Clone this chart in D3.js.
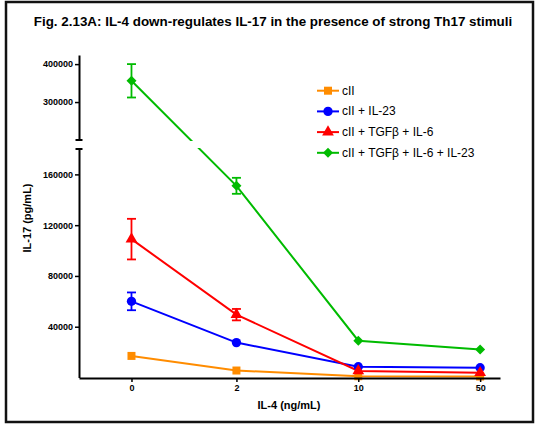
<!DOCTYPE html>
<html>
<head>
<meta charset="utf-8">
<script src="https://cdn.jsdelivr.net/npm/d3@7"></script>
<style>
  body { margin: 0; background: #fff; }
  svg text { font-family: "Liberation Sans", Arial, sans-serif; }
  .axis path, .axis line { stroke: #000; }
  .axis text { font-weight: bold; font-size: 9px; fill: #000; }
</style>
</head>
<body>
<svg id="content" width="537" height="425"></svg>
<script>
// IL-4 dose (ng/mL); 0 is drawn at 0.5 on the log axis
let doses = [0, 2, 10, 50];
let xLabels = ["0", "2", "10", "50"];

let seriesNames = ["cII", "cII + IL-23", "cII + TGF\u03b2 + IL-6", "cII + TGF\u03b2 + IL-6 + IL-23"];
let cII = [17000, 5500, 1000, 800];
let cIIil23 = [60000, 27500, 8500, 7700];
let cIItgf = [109000, 49500, 5200, 3800];
let cIItgfil23 = [356000, 151000, 29000, 22000];

let errCII = [0, 0, 0, 0];
let errIl23 = [7000, 0, 0, 0];
let errTgf = [16000, 4500, 0, 0];
let errTgfIl23 = [44000, 6300, 0, 0];

let lowTicks = [40000, 80000, 120000, 160000];
let highTicks = [300000, 400000];

let colors = ["#ff8c00", "#0000ff", "#ff0000", "#00bb00"];
let shapes = [d3.symbolSquare, d3.symbolCircle, d3.symbolTriangle, d3.symbolSquare];
let sizes = [64, 68, 60, 50];
let rotations = [0, 0, 0, 45];

let svg = d3.select("#content");

// frame
svg.append("rect")
  .attr("x", 6).attr("y", 2).attr("width", 527).attr("height", 420)
  .attr("fill", "none").attr("stroke", "#111").attr("stroke-width", 2.5);

svg.append("text")
  .attr("x", 273).attr("y", 26)
  .attr("text-anchor", "middle")
  .style("font-weight", "bold").style("font-size", "13.4px")
  .text("Fig. 2.13A: IL-4 down-regulates IL-17 in the presence of strong Th17 stimuli");

let x = d3.scaleLog().domain([0.25, 65]).range([79, 500]);
let yLow = d3.scaleLinear().domain([0, 180000]).range([377.5, 149]);
let yHigh = d3.scaleLinear().domain([200000, 424000]).range([140, 55]);
function y(v) { return v > 180000 ? yHigh(v) : yLow(v); }
function xp(d) { return x(d === 0 ? 0.5 : d); }

let g = svg.append("g");

let series = [
  { name: seriesNames[0], vals: cII, err: errCII },
  { name: seriesNames[1], vals: cIIil23, err: errIl23 },
  { name: seriesNames[2], vals: cIItgf, err: errTgf },
  { name: seriesNames[3], vals: cIItgfil23, err: errTgfIl23 },
];

let line = d3.line().x((d, i) => xp(doses[i])).y(d => y(d));

series.forEach(function (s, k) {
  g.append("path")
    .attr("d", line(s.vals))
    .attr("fill", "none")
    .attr("stroke", colors[k])
    .attr("stroke-width", 2);
});

// gap in the lines at the axis break
g.append("rect")
  .attr("x", 81).attr("y", 141).attr("width", 420).attr("height", 7)
  .attr("fill", "#fff");

function marker(sel, k, px, py) {
  sel.append("path")
    .attr("d", d3.symbol().type(shapes[k]).size(sizes[k])())
    .attr("transform", "translate(" + px + "," + py + ") rotate(" + rotations[k] + ")")
    .attr("fill", colors[k]);
}

series.forEach(function (s, k) {
  s.vals.forEach(function (v, i) {
    let e = s.err[i];
    if (e > 0) {
      let cx = xp(doses[i]);
      g.append("line")
        .attr("x1", cx).attr("x2", cx).attr("y1", y(v + e)).attr("y2", y(v - e))
        .attr("stroke", colors[k]).attr("stroke-width", 1.8);
      [v + e, v - e].forEach(function (w) {
        g.append("line")
          .attr("x1", cx - 4.5).attr("x2", cx + 4.5).attr("y1", y(w)).attr("y2", y(w))
          .attr("stroke", colors[k]).attr("stroke-width", 1.8);
      });
    }
  });
  s.vals.forEach(function (v, i) {
    marker(g, k, xp(doses[i]), y(v));
  });
});

// axes
let fmt = d3.format("d");
svg.append("g").attr("class", "axis")
  .attr("transform", "translate(79,0)")
  .call(d3.axisLeft(yLow).tickValues(lowTicks).tickFormat(fmt).tickSize(4).tickSizeOuter(0).tickPadding(2))
  .call(a => a.select(".domain").attr("stroke-width", 2))
  .call(a => a.selectAll(".tick line").attr("stroke-width", 1.5));
svg.append("g").attr("class", "axis")
  .attr("transform", "translate(79,0)")
  .call(d3.axisLeft(yHigh).tickValues(highTicks).tickFormat(fmt).tickSize(4).tickSizeOuter(0).tickPadding(2))
  .call(a => a.select(".domain").attr("stroke-width", 2))
  .call(a => a.selectAll(".tick line").attr("stroke-width", 1.5));

// break caps
[140, 149].forEach(function (yy) {
  svg.append("line")
    .attr("x1", 75.5).attr("x2", 82.5).attr("y1", yy).attr("y2", yy)
    .attr("stroke", "#000").attr("stroke-width", 2);
});

svg.append("g").attr("class", "axis")
  .attr("transform", "translate(0,378)")
  .call(d3.axisBottom(x).tickValues([0.5, 2, 10, 50]).tickFormat((d, i) => xLabels[i]).tickSize(4).tickSizeOuter(0).tickPadding(3))
  .call(a => a.select(".domain").attr("stroke-width", 2))
  .call(a => a.selectAll(".tick line").attr("stroke-width", 1.5));

svg.append("text")
  .attr("x", 289).attr("y", 409)
  .attr("text-anchor", "middle")
  .style("font-weight", "bold").style("font-size", "11px")
  .text("IL-4 (ng/mL)");

svg.append("text")
  .attr("transform", "translate(31,218) rotate(-90)")
  .attr("text-anchor", "middle")
  .style("font-weight", "bold").style("font-size", "11px")
  .text("IL-17 (pg/mL)");

// legend
let legend = svg.append("g");
series.forEach(function (s, k) {
  let ly = 90.7 + k * 20.7;
  legend.append("line")
    .attr("x1", 317).attr("x2", 339).attr("y1", ly).attr("y2", ly)
    .attr("stroke", colors[k]).attr("stroke-width", 2);
  marker(legend, k, 328, ly);
  legend.append("text")
    .attr("x", 342).attr("y", ly + 4)
    .style("font-size", "12px")
    .text(s.name);
});
</script>
</body>
</html>
